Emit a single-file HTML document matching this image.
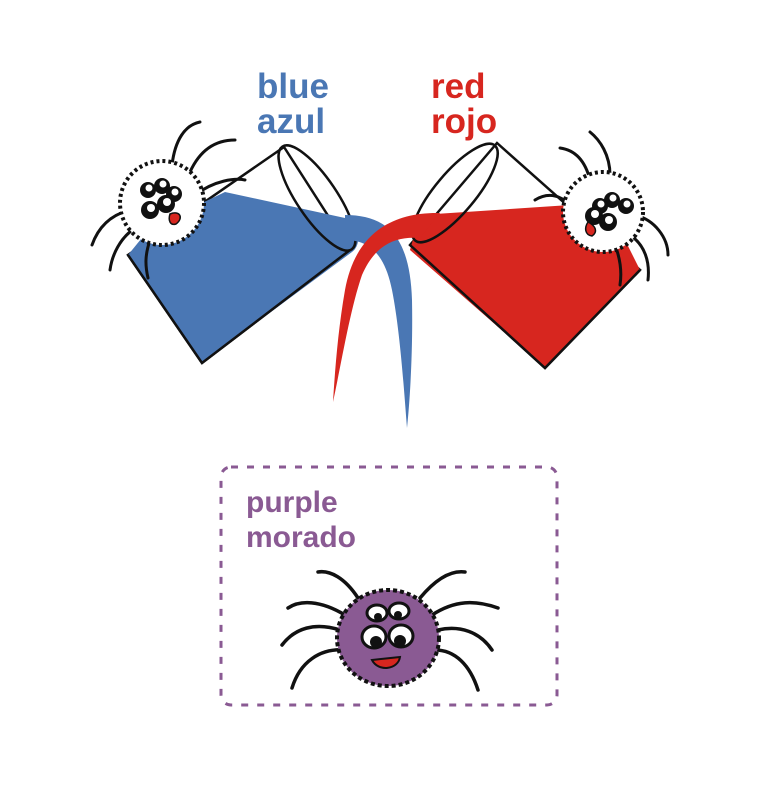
<!DOCTYPE html>
<html><head><style>
html,body{margin:0;padding:0;background:#fff;}
svg{display:block;}
text{font-family:"Liberation Sans",sans-serif;font-weight:bold;}
</style></head><body>
<svg width="780" height="786" viewBox="0 0 780 786" xmlns="http://www.w3.org/2000/svg">
<text x="257" y="98" font-size="35" fill="#4a77b4">blue</text>
<text x="257" y="133" font-size="35" fill="#4a77b4">azul</text>
<text x="431" y="98" font-size="35" fill="#d7261f">red</text>
<text x="431" y="133" font-size="35" fill="#d7261f">rojo</text>

<polygon points="128,255 202,363 350,250 284,147" fill="#fff" stroke="#111" stroke-width="2.5"/>
<path d="M128,255 L202,363 L352,252 C362,245 360,225 345,218 L225,192 L150,228 Z" fill="#4a77b4"/>
<path d="M128,255 L202,363 L350,250" fill="none" stroke="#111" stroke-width="2.5"/>
<ellipse cx="317" cy="198" rx="20" ry="62" transform="rotate(-34 317 198)" fill="none" stroke="#111" stroke-width="2.5"/>
<path d="M345,215 C390,215 410,240 412,300 C413,350 410,400 407,428 C404,390 400,330 392,290 C385,255 370,240 345,240 Z" fill="#4a77b4"/>

<polygon points="640,270 545,368 410,245 497,143" fill="#fff" stroke="#111" stroke-width="2.5"/>
<path d="M640,270 L545,368 L410,250 L420,215 L570,205 L620,230 Z" fill="#d7261f"/>
<path d="M640,270 L545,368 L410,245" fill="none" stroke="#111" stroke-width="2.5"/>
<ellipse cx="455" cy="193" rx="20" ry="62" transform="rotate(40 455 193)" fill="none" stroke="#111" stroke-width="2.5"/>
<path d="M440,213 C390,212 355,235 345,290 C338,330 335,370 333,402 C342,360 350,310 362,275 C375,245 395,236 420,238 Z" fill="#d7261f"/>

<g stroke="#111" stroke-width="3" fill="none" stroke-linecap="round">
<path d="M172,165 C175,140 185,125 200,122"/>
<path d="M190,172 C200,150 215,140 235,140"/>
<path d="M195,195 C215,180 235,178 245,180"/>
<path d="M130,210 C110,215 98,228 92,245"/>
<path d="M135,228 C120,238 112,255 110,270"/>
<path d="M150,240 C145,255 145,265 148,278"/>
</g>
<circle cx="162" cy="203" r="42" fill="#fff" stroke="#111" stroke-width="4" stroke-dasharray="3 3"/>
<g fill="#111"><circle cx="148" cy="190" r="8"/><circle cx="162" cy="186" r="8"/><circle cx="174" cy="194" r="8"/><circle cx="150" cy="210" r="9"/><circle cx="166" cy="204" r="9"/></g>
<g fill="#fff"><circle cx="149" cy="188" r="3.5"/><circle cx="163" cy="184" r="3.5"/><circle cx="175" cy="192" r="3.5"/><circle cx="151" cy="208" r="4"/><circle cx="167" cy="202" r="4"/></g>
<path d="M170,214 C180,210 184,218 176,224 C170,226 168,220 170,214Z" fill="#d7261f" stroke="#111" stroke-width="1.5"/>

<g stroke="#111" stroke-width="3" fill="none" stroke-linecap="round">
<path d="M590,180 C585,160 575,150 560,148"/>
<path d="M610,175 C610,155 600,140 590,132"/>
<path d="M570,205 C560,195 548,192 535,200"/>
<path d="M635,215 C655,220 668,238 668,255"/>
<path d="M630,235 C645,245 650,262 648,280"/>
<path d="M615,245 C620,258 622,272 620,285"/>
</g>
<circle cx="603" cy="212" r="40" fill="#fff" stroke="#111" stroke-width="4" stroke-dasharray="3 3"/>
<g fill="#111"><circle cx="612" cy="200" r="8"/><circle cx="626" cy="206" r="8"/><circle cx="600" cy="206" r="8"/><circle cx="608" cy="222" r="9"/><circle cx="594" cy="216" r="9"/></g>
<g fill="#fff"><circle cx="613" cy="198" r="3.5"/><circle cx="627" cy="204" r="3.5"/><circle cx="601" cy="204" r="3.5"/><circle cx="609" cy="220" r="4"/><circle cx="595" cy="214" r="4"/></g>
<path d="M588,222 C596,226 598,232 592,236 C585,235 584,228 588,222Z" fill="#d7261f" stroke="#111" stroke-width="1.5"/>

<rect x="221" y="467" width="336" height="238" rx="10" fill="none" stroke="#8a5a93" stroke-width="3" stroke-dasharray="7 9"/>
<text x="246" y="512" font-size="30" fill="#8a5a93">purple</text>
<text x="246" y="547" font-size="30" fill="#8a5a93">morado</text>

<g stroke="#111" stroke-width="3.5" fill="none" stroke-linecap="round">
<path d="M358,598 C345,578 330,570 318,572"/>
<path d="M345,615 C320,600 300,600 288,608"/>
<path d="M340,630 C315,622 295,628 282,645"/>
<path d="M345,650 C320,648 300,662 292,688"/>
<path d="M420,598 C435,580 450,570 465,572"/>
<path d="M432,615 C455,600 475,600 498,608"/>
<path d="M438,630 C460,625 480,632 492,650"/>
<path d="M435,650 C455,650 470,665 478,690"/>
</g>
<ellipse cx="388" cy="638" rx="51" ry="48" fill="#8a5a93" stroke="#111" stroke-width="4" stroke-dasharray="4 3"/>
<g fill="#fff" stroke="#111" stroke-width="3">
<ellipse cx="377" cy="613" rx="10" ry="8"/><ellipse cx="399" cy="611" rx="10" ry="8"/>
<ellipse cx="374" cy="637" rx="12" ry="11"/><ellipse cx="401" cy="636" rx="12" ry="11"/>
</g>
<g fill="#111"><circle cx="378" cy="617" r="4"/><circle cx="398" cy="615" r="4"/><circle cx="376" cy="642" r="6"/><circle cx="400" cy="641" r="6"/></g>
<path d="M372,660 L400,657 C398,670 378,672 372,660Z" fill="#d7261f" stroke="#111" stroke-width="2"/>
</svg>
</body></html>
